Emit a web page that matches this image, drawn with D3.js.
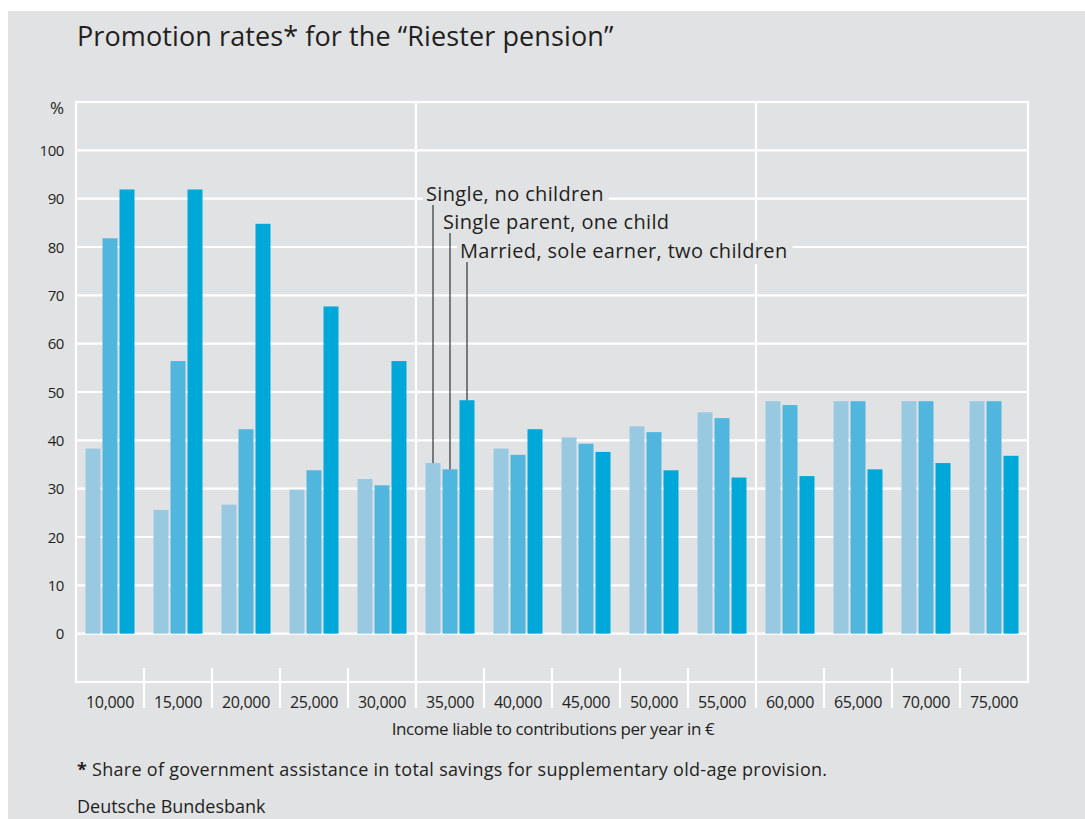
<!DOCTYPE html>
<html><head><meta charset="utf-8">
<script src="https://cdn.jsdelivr.net/npm/d3@7"></script>
<style>
html,body{margin:0;padding:0;background:#fff;}
svg{display:block;font-family:"Open Sans",sans-serif;}
</style></head>
<body>
<svg id="c" width="1085" height="819"></svg>
<script>
const categories = ["10,000","15,000","20,000","25,000","30,000","35,000","40,000","45,000","50,000","55,000","60,000","65,000","70,000","75,000"];
const seriesNames = ["Single, no children","Single parent, one child","Married, sole earner, two children"];
const singleNoChildren   = [38.3, 25.6, 26.7, 29.8, 32.0, 35.3, 38.3, 40.6, 42.9, 45.8, 48.1, 48.1, 48.1, 48.1];
const singleParent       = [81.8, 56.4, 42.3, 33.8, 30.7, 34.0, 37.0, 39.3, 41.7, 44.6, 47.3, 48.1, 48.1, 48.1];
const marriedTwoChildren = [91.9, 91.9, 84.8, 67.7, 56.4, 48.3, 42.3, 37.6, 33.8, 32.3, 32.6, 34.0, 35.3, 36.8];
const yTicks = [0,10,20,30,40,50,60,70,80,90,100];
const colors = ["#99c9e1","#51b6de","#00a8da"];
const title = "Promotion rates* for the \u201cRiester pension\u201d";
const xTitle = "Income liable to contributions per year in \u20ac";
const footnote = "Share of government assistance in total savings for supplementary old-age provision.";
const source = "Deutsche Bundesbank";

const seriesValues = [singleNoChildren, singleParent, marriedTwoChildren];
const svg = d3.select("#c");
const textCol = "#231f20";

svg.append("rect").attr("x",8).attr("y",11).attr("width",1077).attr("height",808).attr("fill","#e1e2e4");

const L=76, R=1028, T=102, B=682;
const x = d3.scaleBand().domain(categories).range([L,R]).paddingInner(0).paddingOuter(0);
const x1 = d3.scaleBand().domain([0,1,2]).range([9.5, x.bandwidth()-9.5]).paddingInner(2/17).paddingOuter(0);
const y = d3.scaleLinear().domain([-10,110]).range([B,T]);

// title
svg.append("text").attr("x",77).attr("y",46).attr("font-size",27).attr("letter-spacing",0.1).attr("fill",textCol).text(title);

// gridlines
svg.append("g").selectAll("line").data(yTicks).join("line")
  .attr("x1",L).attr("x2",R).attr("y1",d=>y(d)).attr("y2",d=>y(d))
  .attr("stroke","#fff").attr("stroke-width",2.2);
// frame
svg.append("rect").attr("x",L).attr("y",T).attr("width",R-L).attr("height",B-T)
  .attr("fill","none").attr("stroke","#fff").attr("stroke-width",2.2);
// separators
const bounds = categories.slice(1).map((c,i)=>({x:x(c), full:(i+1===5||i+1===10)}));
svg.append("g").selectAll("line").data(bounds).join("line")
  .attr("x1",d=>d.x).attr("x2",d=>d.x)
  .attr("y1",d=>d.full?T:668).attr("y2",708)
  .attr("stroke","#fff").attr("stroke-width",2.2);

// y tick labels
svg.append("g").selectAll("text").data(yTicks).join("text")
  .attr("x",64).attr("y",d=>y(d)+5.5).attr("text-anchor","end")
  .attr("font-size",15).attr("letter-spacing",-0.4).attr("fill",textCol).text(d=>d);
svg.append("text").attr("x",64).attr("y",114).attr("text-anchor","end")
  .attr("font-size",17).attr("fill",textCol).text("%");

// bars
const gBars = svg.append("g");
seriesValues.forEach((vals,s)=>{
  gBars.append("g").selectAll("rect").data(vals).join("rect")
    .attr("x",(d,i)=>x(categories[i])+x1(s))
    .attr("width",x1.bandwidth())
    .attr("y",d=>y(d))
    .attr("height",d=>y(0)-y(d))
    .attr("fill",colors[s]);
});

// x labels
svg.append("g").selectAll("text").data(categories).join("text")
  .attr("x",d=>x(d)+x.bandwidth()/2).attr("y",708).attr("text-anchor","middle")
  .attr("font-size",16).attr("letter-spacing",-0.3).attr("fill",textCol).text(d=>d);
svg.append("text").attr("x",553).attr("y",735).attr("text-anchor","middle")
  .attr("font-size",17).attr("letter-spacing",-0.4).attr("fill",textCol).text(xTitle);

// annotations
const annCat = "35,000";
const annY = [201, 229, 258];
const ann = svg.append("g");
seriesNames.forEach((name,s)=>{
  const cx = x(annCat)+x1(s)+x1.bandwidth()/2;
  const t = ann.append("text").attr("x",cx-7).attr("y",annY[s]).attr("font-size",20).attr("letter-spacing",0.35).attr("fill",textCol).text(name);
  const w = t.node().getComputedTextLength();
  ann.insert("rect","text").attr("x",cx-10).attr("y",annY[s]-17).attr("width",w+8).attr("height",23).attr("fill","#e1e2e4");
  ann.append("line").attr("x1",cx).attr("x2",cx).attr("y1",annY[s]+4).attr("y2",y(seriesValues[s][categories.indexOf(annCat)]))
    .attr("stroke","#111").attr("stroke-width",1);
});

// footnote
const fn = svg.append("text").attr("x",77).attr("y",776).attr("font-size",18).attr("letter-spacing",0.28).attr("fill",textCol);
fn.append("tspan").attr("font-weight","bold").text("*");
fn.append("tspan").text(" "+footnote);
svg.append("text").attr("x",77).attr("y",813).attr("font-size",18).attr("fill",textCol).text(source);
</script>
</body></html>
